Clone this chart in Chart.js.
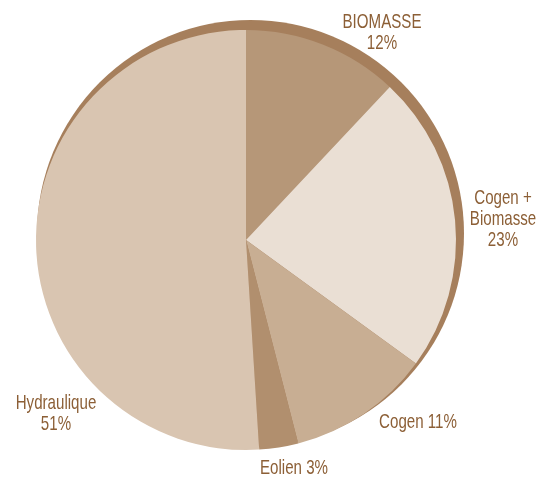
<!DOCTYPE html>
<html>
<head>
<meta charset="utf-8">
<script src="https://cdn.jsdelivr.net/npm/chart.js@4"></script>
<style>
    body { margin: 0; background: #fff; }
    #pie { display: block; }
</style>
</head>
<body>
<canvas id="pie" width="548" height="477"></canvas>
<script>
// sources of energy, clockwise from the top
const categories = ["BIOMASSE", "Cogen +\nBiomasse", "Cogen", "Eolien", "Hydraulique"];
const shares = [12, 23, 11, 3, 51];
const sliceColors = ["#b69778", "#eadfd4", "#c8ae93", "#b18f6e", "#d9c5b1"];

// where each label sits, relative to the pie centre (px); inline = value on same line
const labelSpots = [
    { dx: 136, dy: -207, inline: false },
    { dx: 257, dy: -21, inline: false },
    { dx: 172, dy: 182, inline: true },
    { dx: 48, dy: 228, inline: true },
    { dx: -190, dy: 174, inline: false }
];

const rimPlugin = {
    id: "rim",
    beforeDatasetsDraw(chart) {
        const arc = chart.getDatasetMeta(0).data[0];
        if (!arc) return;
        const ctx = chart.ctx;
        ctx.save();
        ctx.fillStyle = "#a67f5c";
        ctx.beginPath();
        ctx.arc(arc.x + 4.5, arc.y - 6.5, arc.outerRadius + 3.5, 0, Math.PI * 2);
        ctx.fill();
        ctx.restore();
    }
};

// condensed look: normal face squeezed sideways
const squeeze = 0.72;

const labelPlugin = {
    id: "sliceLabels",
    afterDatasetsDraw(chart) {
        const arc = chart.getDatasetMeta(0).data[0];
        const ctx = chart.ctx;
        ctx.save();
        ctx.fillStyle = "#8c5f36";
        ctx.font = "21px 'Liberation Sans', Arial, sans-serif";
        ctx.textAlign = "center";
        ctx.textBaseline = "middle";
        categories.forEach((name, i) => {
            const spot = labelSpots[i];
            let lines = name.split("\n");
            if (spot.inline) lines[lines.length - 1] += " " + shares[i] + "%";
            else lines.push(shares[i] + "%");
            const lh = 21;
            const top = arc.y + spot.dy - (lines.length - 1) * lh / 2;
            lines.forEach((t, k) => {
                ctx.save();
                ctx.translate(arc.x + spot.dx, top + k * lh);
                ctx.scale(squeeze, 1);
                ctx.fillText(t, 0, 0);
                ctx.restore();
            });
        });
        ctx.restore();
    }
};

new Chart(document.getElementById("pie").getContext("2d"), {
    type: "pie",
    data: {
        labels: categories,
        datasets: [{
            data: shares,
            backgroundColor: sliceColors,
            borderWidth: 0
        }]
    },
    options: {
        responsive: false,
        animation: false,
        layout: { padding: { left: 36, right: 92, top: 30, bottom: 27 } },
        plugins: {
            legend: { display: false },
            tooltip: { enabled: false }
        }
    },
    plugins: [rimPlugin, labelPlugin]
});
</script>
</body>
</html>
